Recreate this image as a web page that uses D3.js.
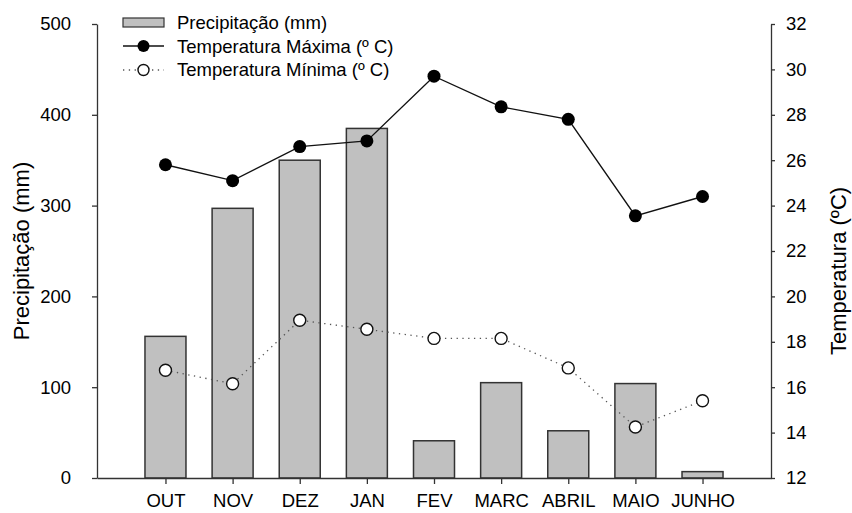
<!DOCTYPE html>
<html>
<head>
<meta charset="utf-8">
<script src="https://cdn.jsdelivr.net/npm/d3@7"></script>
<style>
  body { margin: 0; background: #fff; }
  text { font-family: "Liberation Sans", Arial, sans-serif; fill: #000; }
</style>
</head>
<body>
<script>
// data
const months = ["OUT", "NOV", "DEZ", "JAN", "FEV", "MARC", "ABRIL", "MAIO", "JUNHO"];
const precip = [156, 297, 350, 385, 41, 105, 52, 104, 7];
const tMax = [25.8, 25.1, 26.6, 26.85, 29.7, 28.35, 27.8, 23.55, 24.4];
const tMin = [16.75, 16.15, 18.95, 18.55, 18.15, 18.15, 16.85, 14.25, 15.4];
const precipTicks = [0, 100, 200, 300, 400, 500];
const tempTicks = [12, 14, 16, 18, 20, 22, 24, 26, 28, 30, 32];

const width = 852, height = 513;
const plotLeft = 97, plotRight = 771, plotTop = 24, plotBottom = 478;

const svg = d3.select("body").append("svg")
    .attr("width", width)
    .attr("height", height);

const x = d3.scalePoint().domain(months).range([plotLeft, plotRight]).padding(1.02);
const yP = d3.scaleLinear().domain([0, 500]).range([plotBottom, plotTop]);
const yT = d3.scaleLinear().domain([12, 32]).range([plotBottom, plotTop]);

// bars
const barW = 41;
svg.selectAll("rect.bar")
    .data(months)
    .enter()
    .append("rect")
    .attr("class", "bar")
    .attr("x", d => x(d) - barW / 2)
    .attr("y", (d, i) => yP(precip[i]))
    .attr("width", barW)
    .attr("height", (d, i) => plotBottom - yP(precip[i]))
    .style("fill", "#c0c0c0")
    .style("stroke", "#333")
    .style("stroke-width", 1.5);

// axes
function styleAxis(g) {
    g.selectAll("path, line").style("stroke", "#333").style("stroke-width", 1.3);
    g.selectAll("text").style("font-size", "18.5px").style("font-family", "'Liberation Sans', Arial, sans-serif");
}

svg.append("g")
    .attr("transform", `translate(${plotLeft},0)`)
    .call(d3.axisLeft(yP).tickValues(precipTicks).tickSize(5).tickSizeOuter(0).tickPadding(21))
    .call(styleAxis);

svg.append("g")
    .attr("transform", `translate(${plotRight},0)`)
    .call(d3.axisRight(yT).tickValues(tempTicks).tickSize(4).tickSizeOuter(0).tickPadding(11))
    .call(styleAxis);

svg.append("g")
    .attr("transform", `translate(0,${plotBottom})`)
    .call(d3.axisBottom(x).tickSize(6).tickSizeOuter(0).tickPadding(10))
    .call(styleAxis);

// max temperature line
const lineT = d3.line().x((d, i) => x(months[i])).y(d => yT(d));
svg.append("path")
    .datum(tMax)
    .attr("d", lineT)
    .style("fill", "none")
    .style("stroke", "#111")
    .style("stroke-width", 1.4);

svg.selectAll("circle.max")
    .data(tMax)
    .enter()
    .append("circle")
    .attr("class", "max")
    .attr("cx", (d, i) => x(months[i]))
    .attr("cy", d => yT(d))
    .attr("r", 6.5)
    .style("fill", "#000");

// min temperature line
svg.append("path")
    .datum(tMin)
    .attr("d", lineT)
    .style("fill", "none")
    .style("stroke", "#555")
    .style("stroke-width", 1.3)
    .style("stroke-dasharray", "1.3,4.5");

svg.selectAll("circle.min")
    .data(tMin)
    .enter()
    .append("circle")
    .attr("class", "min")
    .attr("cx", (d, i) => x(months[i]))
    .attr("cy", d => yT(d))
    .attr("r", 6)
    .style("fill", "#fff")
    .style("stroke", "#111")
    .style("stroke-width", 1.4);

// axis titles
svg.append("text")
    .attr("transform", "translate(29,251) rotate(-90)")
    .attr("text-anchor", "middle")
    .style("font-size", "22px")
    .text("Precipitação (mm)");

svg.append("text")
    .attr("transform", "translate(846,271) rotate(-90)")
    .attr("text-anchor", "middle")
    .style("font-size", "22px")
    .text("Temperatura (ºC)");

// legend
const lg = svg.append("g");
lg.append("rect")
    .attr("x", 123).attr("y", 18).attr("width", 41).attr("height", 9)
    .style("fill", "#c0c0c0").style("stroke", "#333").style("stroke-width", 1.2);
lg.append("line")
    .attr("x1", 123).attr("x2", 164).attr("y1", 46).attr("y2", 46)
    .style("stroke", "#111").style("stroke-width", 1.4);
lg.append("circle").attr("cx", 143.5).attr("cy", 46).attr("r", 6).style("fill", "#000");
lg.append("line")
    .attr("x1", 123).attr("x2", 164).attr("y1", 70).attr("y2", 70)
    .style("stroke", "#555").style("stroke-width", 1.3).style("stroke-dasharray", "1.3,4.5");
lg.append("circle").attr("cx", 143.5).attr("cy", 70).attr("r", 5.5)
    .style("fill", "#fff").style("stroke", "#111").style("stroke-width", 1.4);

const legendLabels = ["Precipitação (mm)", "Temperatura Máxima (º C)", "Temperatura Mínima (º C)"];
lg.selectAll("text")
    .data(legendLabels)
    .enter()
    .append("text")
    .attr("x", 177)
    .attr("y", (d, i) => 22.5 + i * 23.7)
    .attr("dy", "0.35em")
    .style("font-size", "18.5px")
    .text(d => d);
</script>
</body>
</html>
